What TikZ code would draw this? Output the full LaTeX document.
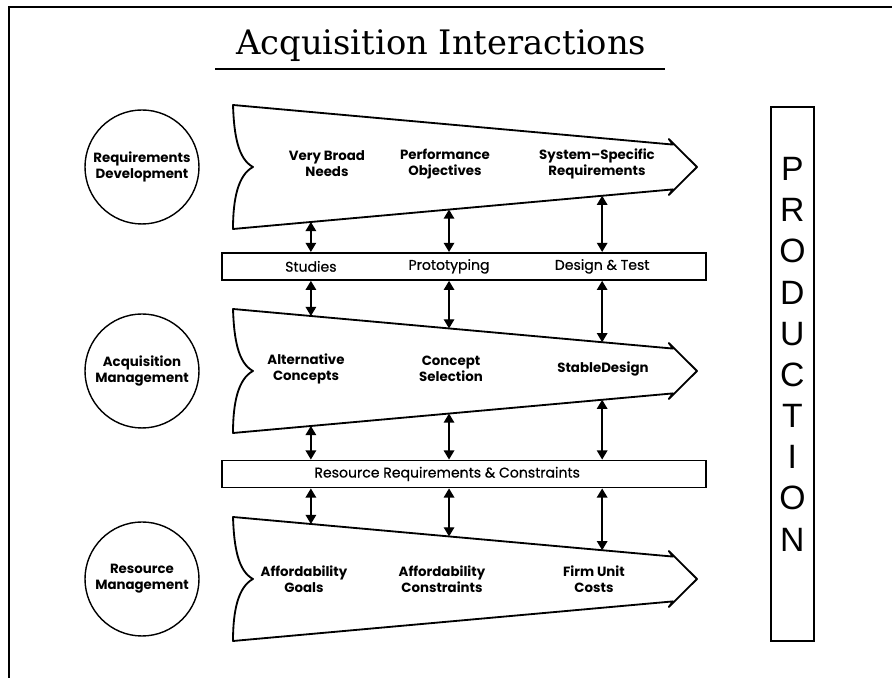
\documentclass[tikz,border=0pt]{standalone}
\usepackage{fontspec}
\newfontfamily\titlefont{DejaVu Serif}
\newfontfamily\labelfont{Poppins}
\newfontfamily\barfont[FakeBold=0.6]{Poppins}
\newfontfamily\prodfont{Liberation Sans}
\usetikzlibrary{arrows.meta,positioning,calc}

\begin{document}
\begin{tikzpicture}[
  orgcircle/.style={draw,circle,line width=1pt,minimum size=2.85cm,inner sep=0pt,
    align=center,font=\labelfont\bfseries\fontsize{9.5}{11.5}\selectfont},
  stagelabel/.style={align=center,font=\labelfont\bfseries\fontsize{9.5}{11.5}\selectfont},
  linkbar/.style={draw,line width=1.2pt,minimum width=12.1cm,minimum height=0.68cm,inner sep=0pt},
  barlabel/.style={font=\barfont\fontsize{10}{12}\selectfont},
  pennant/.style={line width=1.3pt,line join=round},
  link/.style={{Triangle[width=7.5pt,length=6.5pt]}-{Triangle[width=7.5pt,length=6.5pt]},line width=1pt}
]
  \useasboundingbox (0,0) rectangle (22.3,16.95);
  % page frame
  \draw[line width=0.8pt] (0.225,0) -- (0.225,16.775) -- (22.3,16.775);

  % heading
  \node[font=\titlefont\fontsize{24}{28}\selectfont,anchor=base] (title) at (11.03,15.575) {Acquisition Interactions};
  \draw[line width=1.5pt] (5.375,15.225) -- (16.625,15.225);

  % the three process pennants, with tie points for the links
  \foreach \nm/\cy in {req/12.775,acq/7.675,res/2.475}{
    \draw[pennant] (5.825,\cy+1.55)
      -- coordinate[pos=0.177] (\nm T1) coordinate[pos=0.491] (\nm T2) coordinate[pos=0.839] (\nm T3)
         (16.825,\cy+0.56) -- (16.72,\cy+0.7) -- (17.425,\cy) -- (16.72,\cy-0.7) -- (16.825,\cy-0.56)
      -- coordinate[pos=0.161] (\nm B3) coordinate[pos=0.509] (\nm B2) coordinate[pos=0.823] (\nm B1)
         (5.825,\cy-1.55)
      .. controls (5.825,\cy-0.8) and (5.95,\cy-0.2) .. (6.325,\cy)
      .. controls (5.95,\cy+0.2) and (5.85,\cy+0.8) .. cycle;
  }

  % organisations
  \node[orgcircle] (reqdev) at (3.55,12.775) {Requirements\\Development};
  \node[orgcircle] (acqmgt) at (3.55,7.675) {Acquisition\\Management};
  \node[orgcircle] (resmgt) at (3.55,2.475) {Resource\\Management};

  % stages
  \node[stagelabel] (needs) at (8.175,12.85) {Very Broad\\Needs};
  \node[stagelabel] (objectives) at (11.125,12.85) {Performance\\Objectives};
  \node[stagelabel] (sysreq) at (14.925,12.85) {System–Specific\\Requirements};
  \node[stagelabel] (altconc) at (7.65,7.725) {Alternative\\Concepts};
  \node[stagelabel] (conceptsel) at (11.275,7.725) {Concept\\Selection};
  \node[stagelabel] (stable) at (15.075,7.725) {StableDesign};
  \node[stagelabel] (affgoals) at (7.6,2.475) {Affordability\\Goals};
  \node[stagelabel] (affcons) at (11.05,2.475) {Affordability\\Constraints};
  \node[stagelabel] (unitcost) at (14.85,2.475) {Firm Unit\\Costs};

  % interaction bars
  \node[linkbar] (studies) at (11.6,10.29) {};
  \node[barlabel] at (studies.center -| reqB1) {Studies};
  \node[barlabel] at (studies.center -| reqB2) {Prototyping};
  \node[barlabel] at (studies.center -| reqB3) {Design \& Test};
  \node[linkbar] (rrc) at (11.6,5.1) {};
  \node[barlabel] at ([xshift=-0.42cm]rrc.center) {Resource Requirements \& Constraints};

  % two-way links
  \foreach \i in {1,2,3}{
    \draw[link] (reqB\i) -- (reqB\i |- studies.north);
    \draw[link] (acqT\i |- studies.south) -- (acqT\i);
    \draw[link] (acqB\i) -- (acqB\i |- rrc.north);
    \draw[link] (resT\i |- rrc.south) -- (resT\i);
  }

  % production column
  \node[draw,line width=1.2pt,minimum width=1.075cm,minimum height=13.35cm] (prod) at (19.81,7.6) {};
  \node[anchor=north,inner sep=0pt,align=center,font=\prodfont\fontsize{24}{29.3}\selectfont] (prodtext)
    at ([yshift=-1.27cm]prod.north) {P\\R\\O\\D\\U\\C\\T\\I\\O\\N};
\end{tikzpicture}
\end{document}
